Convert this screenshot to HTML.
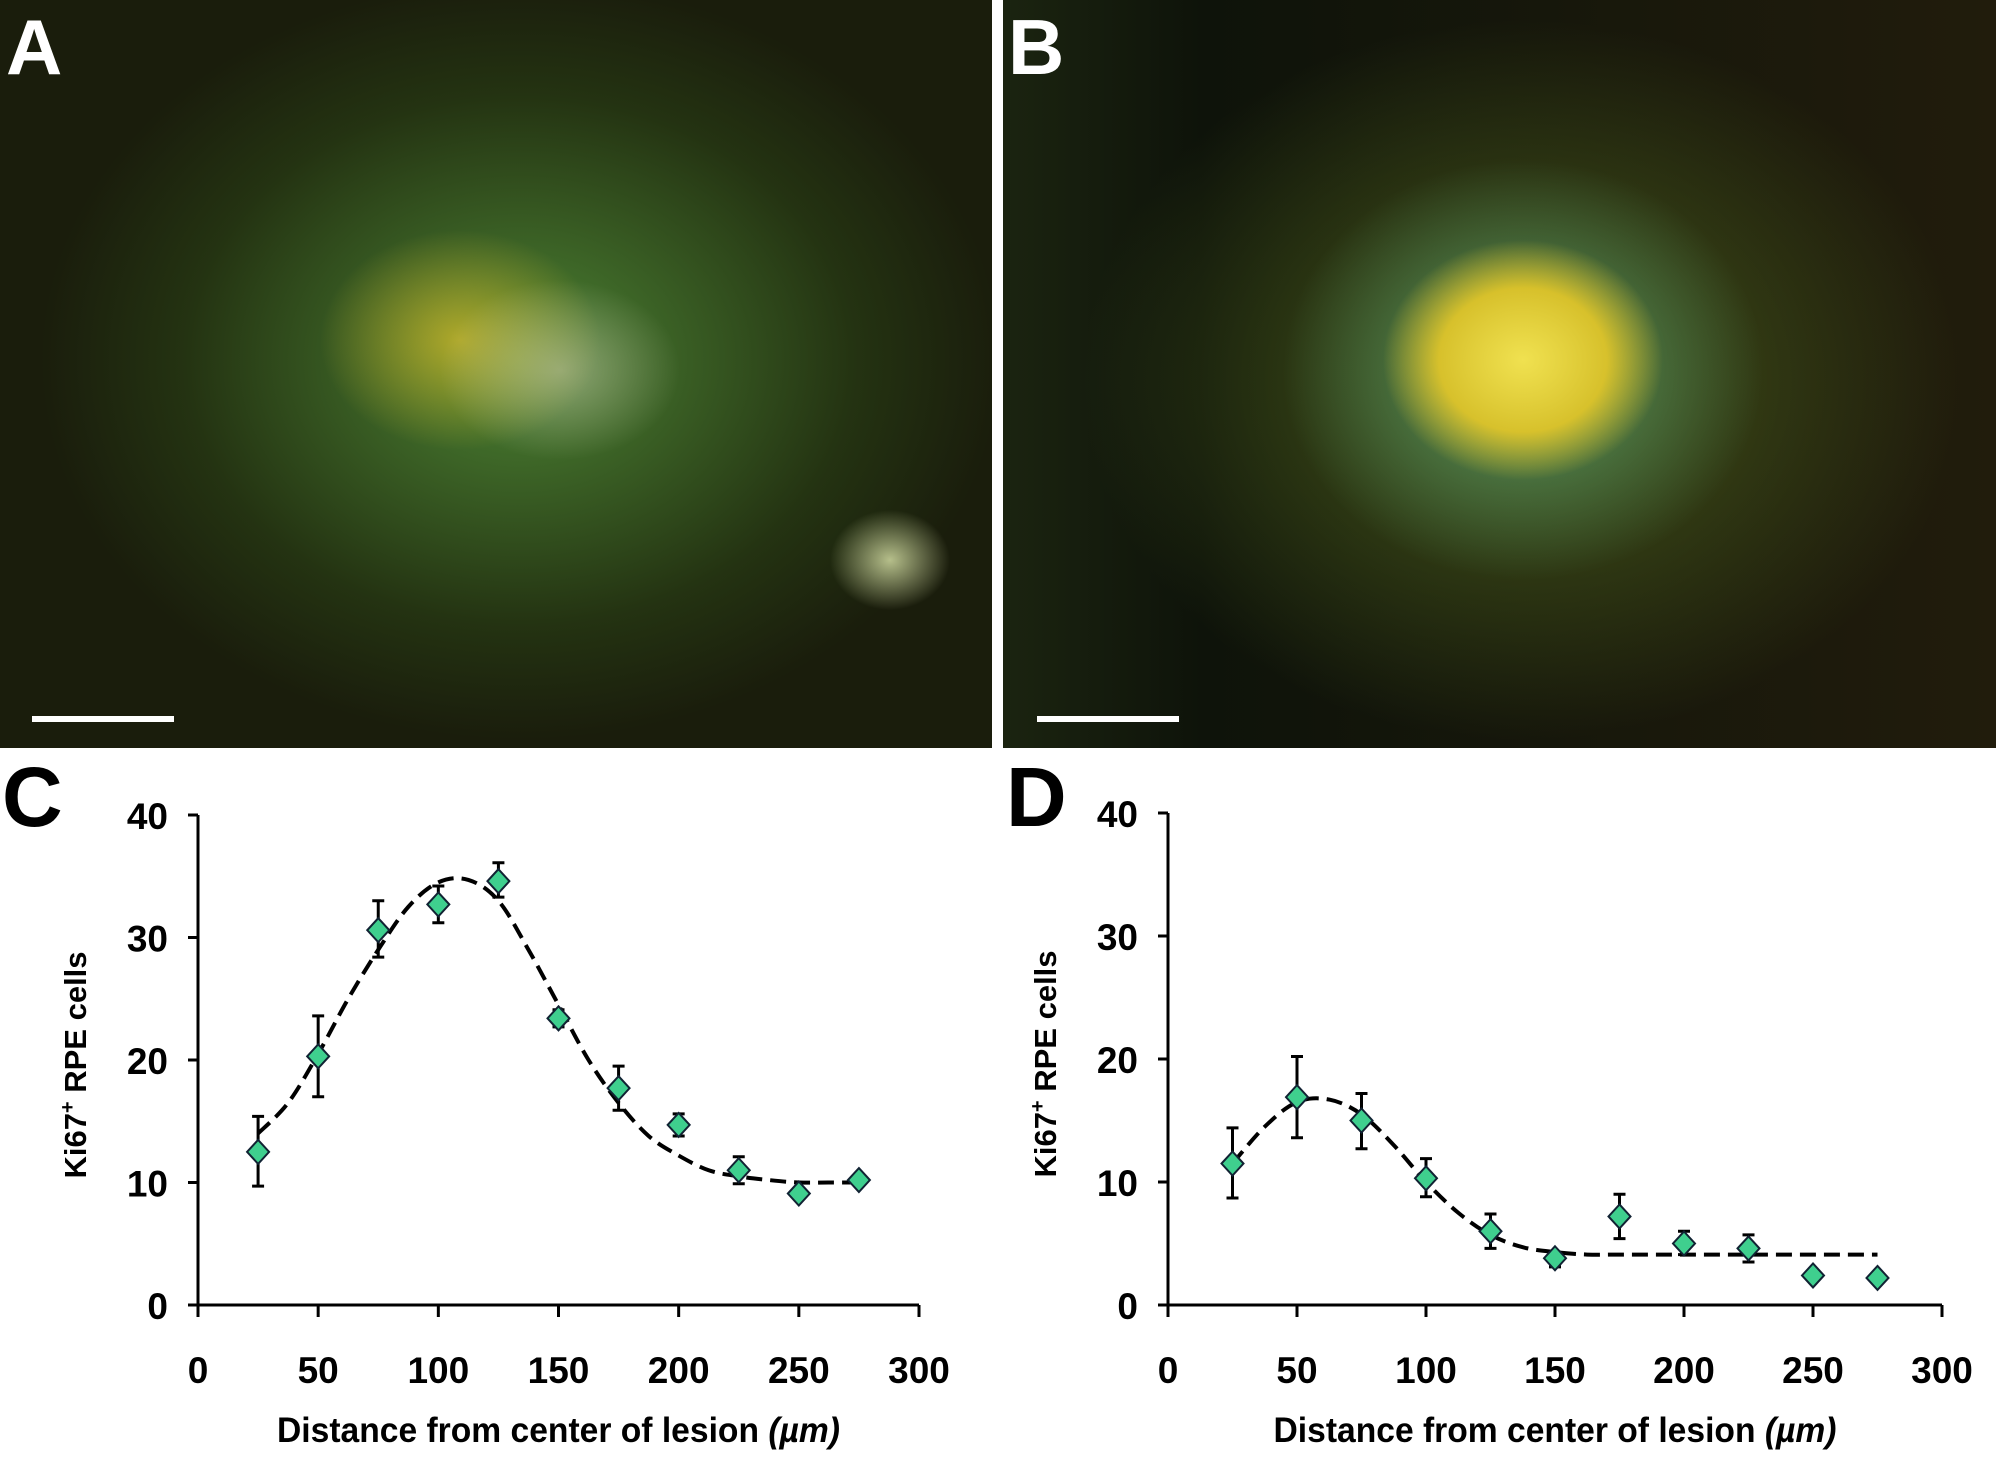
<!DOCTYPE html>
<html><head><meta charset="utf-8"><style>
html,body{margin:0;padding:0;background:#fff;}
#root{position:relative;width:1996px;height:1475px;overflow:hidden;background:#fff;font-family:"Liberation Sans",sans-serif;}
.photo{position:absolute;top:0;height:748px;}
.plabel{position:absolute;font-weight:bold;font-size:78px;line-height:1;}
.bar{position:absolute;height:6px;background:#fff;}
</style></head><body>
<div id="root">
<div class="photo" style="left:0;width:992px;background:
radial-gradient(ellipse 120px 90px at 560px 370px,rgba(200,200,170,0.55),rgba(0,0,0,0) 100%),
radial-gradient(ellipse 140px 110px at 460px 340px,rgba(220,190,40,0.7),rgba(0,0,0,0) 100%),
radial-gradient(ellipse 60px 50px at 890px 560px,rgba(220,230,170,0.8),rgba(0,0,0,0) 100%),
radial-gradient(ellipse 480px 380px at 520px 360px,rgba(80,140,55,0.95),rgba(40,60,20,0.7) 70%,rgba(0,0,0,0) 100%),
#1a1d0c;"></div>
<div class="plabel" style="left:6px;top:8px;color:#fff;">A</div>
<div class="bar" style="left:32px;top:716px;width:142px;"></div>

<div class="photo" style="left:1003px;width:993px;background:
radial-gradient(ellipse 140px 120px at 520px 360px,rgba(240,225,80,1),rgba(230,200,40,0.9) 60%,rgba(0,0,0,0) 100%),
radial-gradient(ellipse 240px 210px at 520px 370px,rgba(90,160,110,0.9),rgba(0,0,0,0) 100%),
radial-gradient(ellipse 440px 360px at 520px 380px,rgba(75,95,28,0.95),rgba(0,0,0,0) 100%),
linear-gradient(90deg,#1b2410 0%,#0e130a 20%,#211c0c 100%);"></div>
<div class="plabel" style="left:1008px;top:8px;color:#fff;">B</div>
<div class="bar" style="left:1037px;top:716px;width:142px;"></div>

<div class="plabel" style="left:2px;top:755px;font-size:84px;">C</div>
<div class="plabel" style="left:1006px;top:755px;font-size:84px;">D</div>
<svg id="chart" width="1996" height="1475" style="position:absolute;left:0;top:0;"></svg>
</div>
<script>
const categories=[25,50,75,100,125,150,175,200,225,250,275];
const cValues=[12.5,20.3,30.6,32.7,34.6,23.4,17.7,14.7,11.0,9.1,10.2];
const cErrHi=[15.4,23.6,33.0,34.2,36.1,24.1,19.5,15.6,12.1,9.1,10.2];
const cErrLo=[9.7,17.0,28.4,31.2,33.3,22.7,15.9,13.8,9.9,9.1,10.2];
const dValues=[11.5,16.9,15.0,10.3,6.0,3.8,7.2,5.0,4.6,2.4,2.2];
const dErrHi=[14.4,20.2,17.2,11.9,7.4,4.3,9.0,6.0,5.7,2.4,2.2];
const dErrLo=[8.7,13.6,12.7,8.8,4.6,3.1,5.4,4.1,3.5,2.4,2.2];
const fitX=[25,37.5,50,62.5,75,87.5,100,112.5,125,137.5,150,162.5,175,187.5,200,212.5,225,237.5,250,262.5,275];
const cFit=[14,16.5,20.5,25,29,32.5,34.5,34.7,33,29,24.5,20,16.5,13.8,12.2,11,10.5,10.2,10,10,10];
const dFit=[11.5,14.5,16.5,16.7,15.5,13,10,7.5,5.7,4.7,4.3,4.1,4.1,4.1,4.1,4.1,4.1,4.1,4.1,4.1,4.1];
const xTicks=[0,50,100,150,200,250,300];
const yTicks=[0,10,20,30,40];

const NS="http://www.w3.org/2000/svg";
const svg=document.getElementById('chart');
function mk(tag,attrs,parent){const e=document.createElementNS(NS,tag);for(const k in attrs)e.setAttribute(k,attrs[k]);(parent||svg).appendChild(e);return e;}
function smooth(pts){let d=`M${pts[0][0]},${pts[0][1]}`;for(let i=0;i<pts.length-1;i++){const p0=pts[Math.max(0,i-1)],p1=pts[i],p2=pts[i+1],p3=pts[Math.min(pts.length-1,i+2)];const c1=[p1[0]+(p2[0]-p0[0])/6,p1[1]+(p2[1]-p0[1])/6],c2=[p2[0]-(p3[0]-p1[0])/6,p2[1]-(p3[1]-p1[1])/6];d+=`C${c1[0]},${c1[1]} ${c2[0]},${c2[1]} ${p2[0]},${p2[1]}`;}return d;}

function chart(id,x0,x1,y0,y1,vals,hi,lo,fit){
  const g=mk('g',{});
  
  
  const sx=v=>x0+(v/300)*(x1-x0), sy=v=>y0-(v/40)*(y0-y1);
  const ya=mk('line',{x1:x0,y1:y1,x2:x0,y2:y0,stroke:'#000','stroke-width':3},g);
  
  const xa=mk('line',{x1:x0-10,y1:y0,x2:x1,y2:y0,stroke:'#000','stroke-width':3},g);
  
  yTicks.forEach(t=>{
    mk('line',{x1:x0-10,y1:sy(t),x2:x0,y2:sy(t),stroke:'#000','stroke-width':3},g);
    const tx=mk('text',{x:x0-30,y:sy(t)+14,'text-anchor':'end','font-size':37,'font-weight':'bold','font-family':'Liberation Sans, sans-serif'},g);
    tx.textContent=t;
    
  });
  xTicks.forEach(t=>{
    mk('line',{x1:sx(t),y1:y0,x2:sx(t),y2:y0+12,stroke:'#000','stroke-width':3},g);
    const tx=mk('text',{x:sx(t),y:y0+78,'text-anchor':'middle','font-size':37,'font-weight':'bold','font-family':'Liberation Sans, sans-serif'},g);
    tx.textContent=t;
    
  });
  const xt=mk('text',{x:(x0+x1)/2,y:1442,'text-anchor':'middle','font-size':35,'font-weight':'bold','font-family':'Liberation Sans, sans-serif',textLength:563,lengthAdjust:'spacingAndGlyphs'},g);
  xt.innerHTML='Distance from center of lesion <tspan font-style="italic">(µm)</tspan>';
  
  const yt=mk('text',{x:0,y:0,'text-anchor':'middle','font-size':31,'font-weight':'bold','font-family':'Liberation Sans, sans-serif',transform:`translate(${x0-112},${(y0+y1)/2+5}) rotate(-90)`},g);
  yt.innerHTML='Ki67<tspan font-size="20" dy="-12">+</tspan><tspan dy="12"> RPE cells</tspan>';
  
  const fp=mk('path',{d:smooth(fitX.map((x,i)=>[sx(x),sy(fit[i])])),fill:'none',stroke:'#000','stroke-width':4,'stroke-dasharray':'16 8'},g);
  
  categories.forEach((c,i)=>{
    const x=sx(c);
    if(hi[i]!==lo[i]){
      const eb=mk('path',{d:`M${x},${sy(hi[i])}V${sy(lo[i])}M${x-6},${sy(hi[i])}H${x+6}M${x-6},${sy(lo[i])}H${x+6}`,stroke:'#000','stroke-width':3,fill:'none'},g);
      
    }
    const y=sy(vals[i]);
    const p=mk('path',{d:`M${x},${y-12}L${x+11},${y}L${x},${y+12}L${x-11},${y}Z`,fill:'#3fcf8e',stroke:'#123','stroke-width':2},g);
    
  });
}
chart('chart-c',198,919,1305,815,cValues,cErrHi,cErrLo,cFit);
chart('chart-d',1168,1942,1305,813,dValues,dErrHi,dErrLo,dFit);
</script>
</body></html>
